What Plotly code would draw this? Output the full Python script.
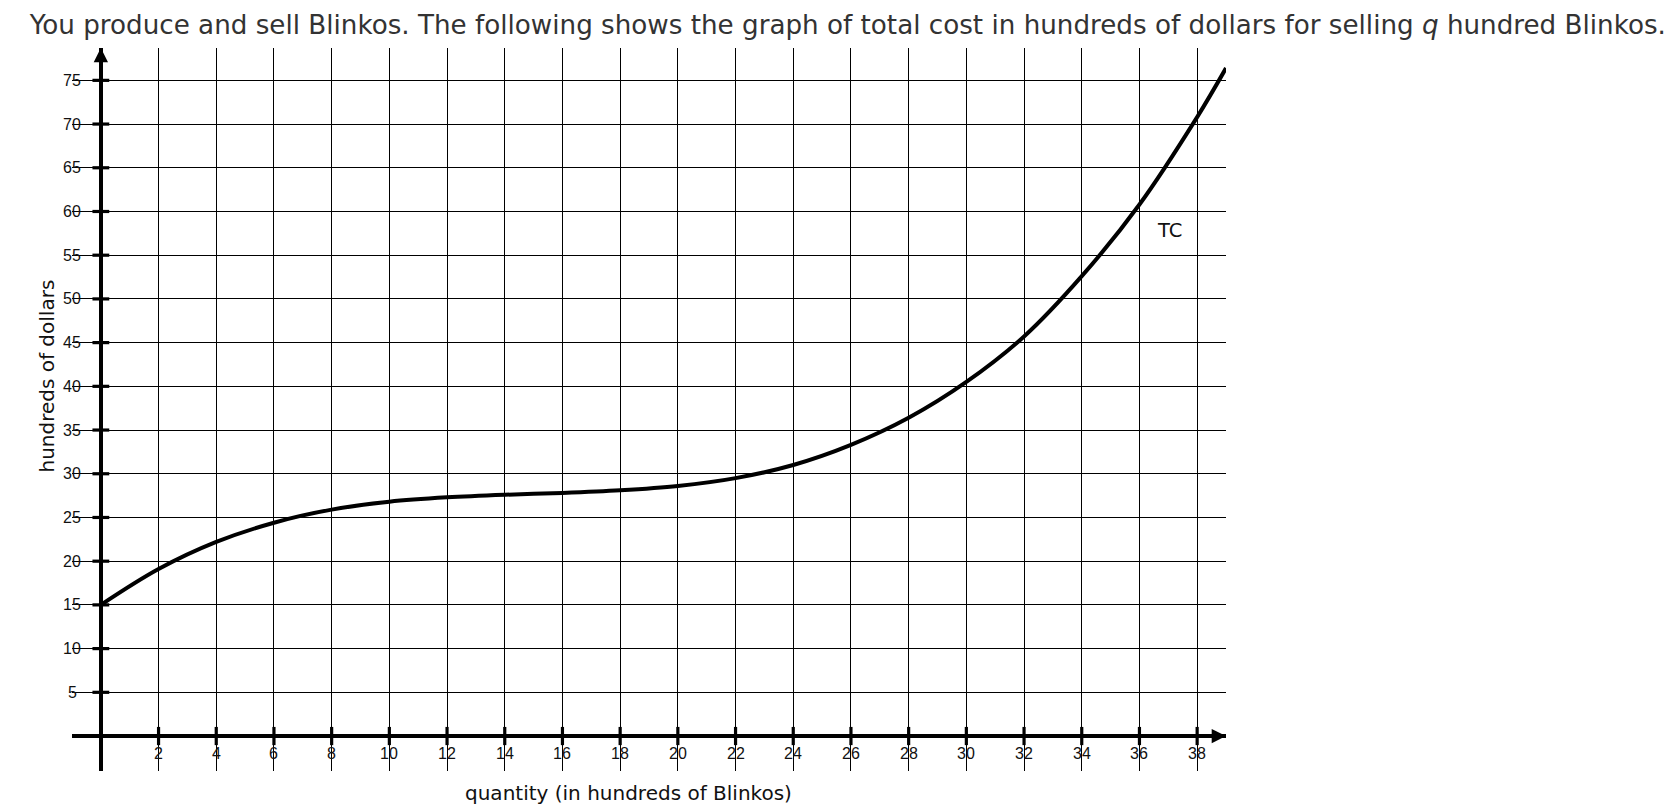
import plotly.graph_objects as go

# ---- data ----
quantity = [0, 2, 4, 6, 8, 10, 12, 14, 16, 18, 20, 22, 24, 26, 28, 30, 32, 34, 36, 38, 39]
total_cost = [15, 19.1, 22.2, 24.4, 25.9, 26.8, 27.3, 27.6, 27.8, 28.1, 28.6, 29.5,
              31.0, 33.3, 36.4, 40.5, 45.7, 52.6, 60.8, 70.8, 76.4]

x_ticks = [2, 4, 6, 8, 10, 12, 14, 16, 18, 20, 22, 24, 26, 28, 30, 32, 34, 36, 38]
y_ticks = [5, 10, 15, 20, 25, 30, 35, 40, 45, 50, 55, 60, 65, 70, 75]

title_text = ("You produce and sell Blinkos. The following shows the graph of total cost in "
              "hundreds of dollars for selling <i>q</i> hundred Blinkos.")
x_title = "quantity (in hundreds of Blinkos)"
y_title = "hundreds of dollars"
curve_label = "TC"

X_RANGE = [-1, 39]
Y_RANGE = [-4, 78.7]

fig = go.Figure()

# tick marks on the axes
fig.add_trace(go.Scatter(
    x=x_ticks, y=[0] * len(x_ticks), mode="markers",
    marker=dict(symbol="line-ns", size=13, line=dict(width=3.2, color="black")),
    hoverinfo="skip", showlegend=False))
fig.add_trace(go.Scatter(
    x=[0] * len(y_ticks), y=y_ticks, mode="markers",
    marker=dict(symbol="line-ew", size=12, line=dict(width=3.2, color="black")),
    hoverinfo="skip", showlegend=False))

# total cost curve
fig.add_trace(go.Scatter(
    x=quantity, y=total_cost, mode="lines",
    line=dict(color="black", width=4, shape="spline", smoothing=1.0),
    name="TC", showlegend=False))

annotations = []
label_font = dict(family="Liberation Sans, Arial, sans-serif", size=16, color="#111")
for v in y_ticks:
    annotations.append(dict(x=-1.0, y=v, xref="x", yref="y", text=str(v), showarrow=False,
                            xanchor="center", yanchor="middle", font=label_font))
for v in x_ticks:
    annotations.append(dict(x=v, y=-2.0, xref="x", yref="y", text=str(v), showarrow=False,
                            xanchor="center", yanchor="middle", font=label_font))

# axis arrows
annotations.append(dict(x=0, y=Y_RANGE[1], xref="x", yref="y", ax=0, ay=22, text="",
                        showarrow=True, arrowhead=2, arrowsize=1.3, arrowwidth=2.2,
                        arrowcolor="black"))
annotations.append(dict(x=X_RANGE[1], y=0, xref="x", yref="y", ax=-22, ay=0, text="",
                        showarrow=True, arrowhead=2, arrowsize=1.3, arrowwidth=2.2,
                        arrowcolor="black"))

# axis titles and curve label
title_font = dict(family="DejaVu Sans, Verdana, sans-serif", size=20, color="#111")
annotations.append(dict(x=-0.0214, y=0.546, xref="paper", yref="paper", text=y_title,
                        showarrow=False, textangle=-90, xanchor="center", yanchor="middle",
                        font=title_font))
annotations.append(dict(x=0.482, y=-0.030, xref="paper", yref="paper", text=x_title,
                        showarrow=False, xanchor="center", yanchor="middle",
                        font=title_font))
annotations.append(dict(x=37.04, y=57.85, xref="x", yref="y", text=curve_label,
                        showarrow=False, xanchor="center", yanchor="middle",
                        font=dict(family="DejaVu Sans, Verdana, sans-serif", size=19.5,
                                  color="#111")))

fig.update_layout(
    width=1678, height=812,
    margin=dict(l=64, r=460, t=40, b=49),
    paper_bgcolor="white", plot_bgcolor="white",
    title=dict(text=title_text, x=0.5005, xref="container", xanchor="center",
               y=1 - 17 / 812, yref="container", yanchor="middle",
               font=dict(family="DejaVu Sans, Verdana, sans-serif", size=26.2, color="#333")),
    showlegend=False,
    annotations=annotations,
    xaxis=dict(range=X_RANGE, tickmode="array", tickvals=x_ticks, showticklabels=False,
               ticks="", showgrid=True, gridcolor="#000", gridwidth=1.3,
               zeroline=True, zerolinecolor="black", zerolinewidth=4,
               showline=False, fixedrange=True),
    yaxis=dict(range=Y_RANGE, tickmode="array", tickvals=y_ticks, showticklabels=False,
               ticks="", showgrid=True, gridcolor="#000", gridwidth=1.3,
               zeroline=True, zerolinecolor="black", zerolinewidth=4,
               showline=False, fixedrange=True),
)

fig.write_html("out.html")
